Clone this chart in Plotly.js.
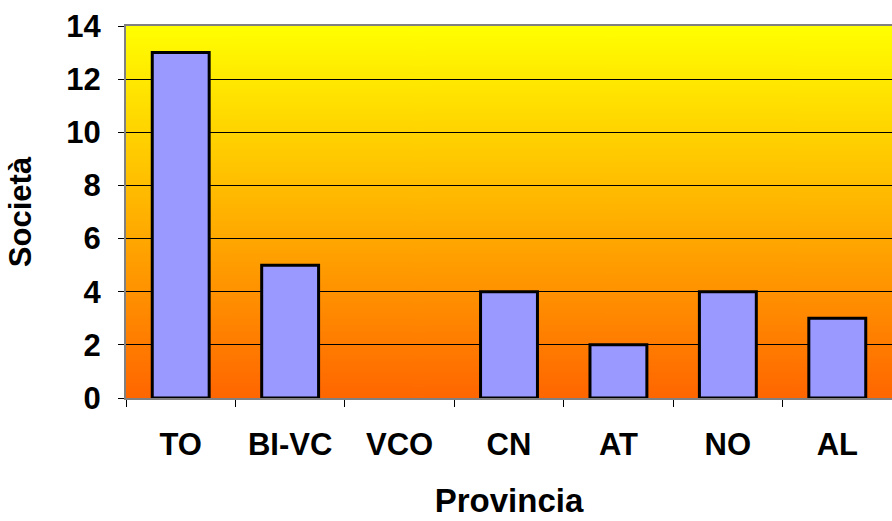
<!DOCTYPE html>
<html>
<head>
<meta charset="utf-8">
<script src="https://cdn.plot.ly/plotly-3.0.1.min.js"></script>
<style>
html,body{margin:0;padding:0;background:#fff;}
#chart{width:892px;height:521px;}
</style>
</head>
<body>
<div id="chart"></div>
<script>
var categories = ["TO", "BI-VC", "VCO", "CN", "AT", "NO", "AL"];
var societa = [13, 5, 0, 4, 2, 4, 3];
var yTicks = [0, 2, 4, 6, 8, 10, 12, 14];

// vertical gradient background image
var cv = document.createElement('canvas');
cv.width = 4; cv.height = 400;
var ctx = cv.getContext('2d');
var g = ctx.createLinearGradient(0, 0, 0, 400);
g.addColorStop(0, '#FFFF00');
g.addColorStop(1, '#FF6600');
ctx.fillStyle = g;
ctx.fillRect(0, 0, 4, 400);
var bgURL = cv.toDataURL();

var font = "Liberation Sans, Arial, sans-serif";

var trace = {
  type: 'bar',
  x: categories,
  y: societa,
  marker: {
    color: '#9999FF',
    line: {color: '#000000', width: societa.map(function(v){return v > 0 ? 3 : 0;})}
  },
  hoverinfo: 'x+y'
};

var layout = {
  width: 892,
  height: 521,
  margin: {l: 126, r: 0, t: 26, b: 123},
  paper_bgcolor: '#ffffff',
  plot_bgcolor: 'rgba(0,0,0,0)',
  bargap: 0.48,
  showlegend: false,
  font: {family: font, color: '#000', size: 22},
  images: [{
    source: bgURL,
    xref: 'paper', yref: 'paper',
    x: 0, y: 1, sizex: 1, sizey: 1,
    sizing: 'stretch',
    xanchor: 'left', yanchor: 'top',
    layer: 'below'
  }],
  xaxis: {
    type: 'category',
    showgrid: false,
    showline: true,
    linecolor: '#808080',
    linewidth: 2,
    mirror: true,
    ticks: 'outside',
    tickson: 'boundaries',
    ticklen: 7,
    tickcolor: '#000',
    tickwidth: 1,
    ticklabelstandoff: 18,
    tickfont: {family: font, size: 31, color: '#000', weight: 'bold'},
    title: {text: 'Provincia', font: {family: font, size: 33, color: '#000', weight: 'bold'}, standoff: 28},
    fixedrange: true
  },
  yaxis: {
    range: [0, 14],
    tickvals: yTicks,
    ticktext: yTicks.map(String),
    showgrid: true,
    gridcolor: '#000000',
    gridwidth: 1,
    zeroline: false,
    showline: true,
    linecolor: '#808080',
    linewidth: 2,
    ticks: 'outside',
    ticklen: 6,
    tickcolor: '#000',
    tickwidth: 1,
    ticklabelstandoff: 11,
    tickfont: {family: font, size: 31, color: '#000', weight: 'bold'},
    title: {text: 'Società', font: {family: font, size: 31, color: '#000', weight: 'bold'}, standoff: 25},
    fixedrange: true
  }
};

Plotly.newPlot('chart', [trace], layout, {displayModeBar: false, staticPlot: true});
</script>
</body>
</html>
